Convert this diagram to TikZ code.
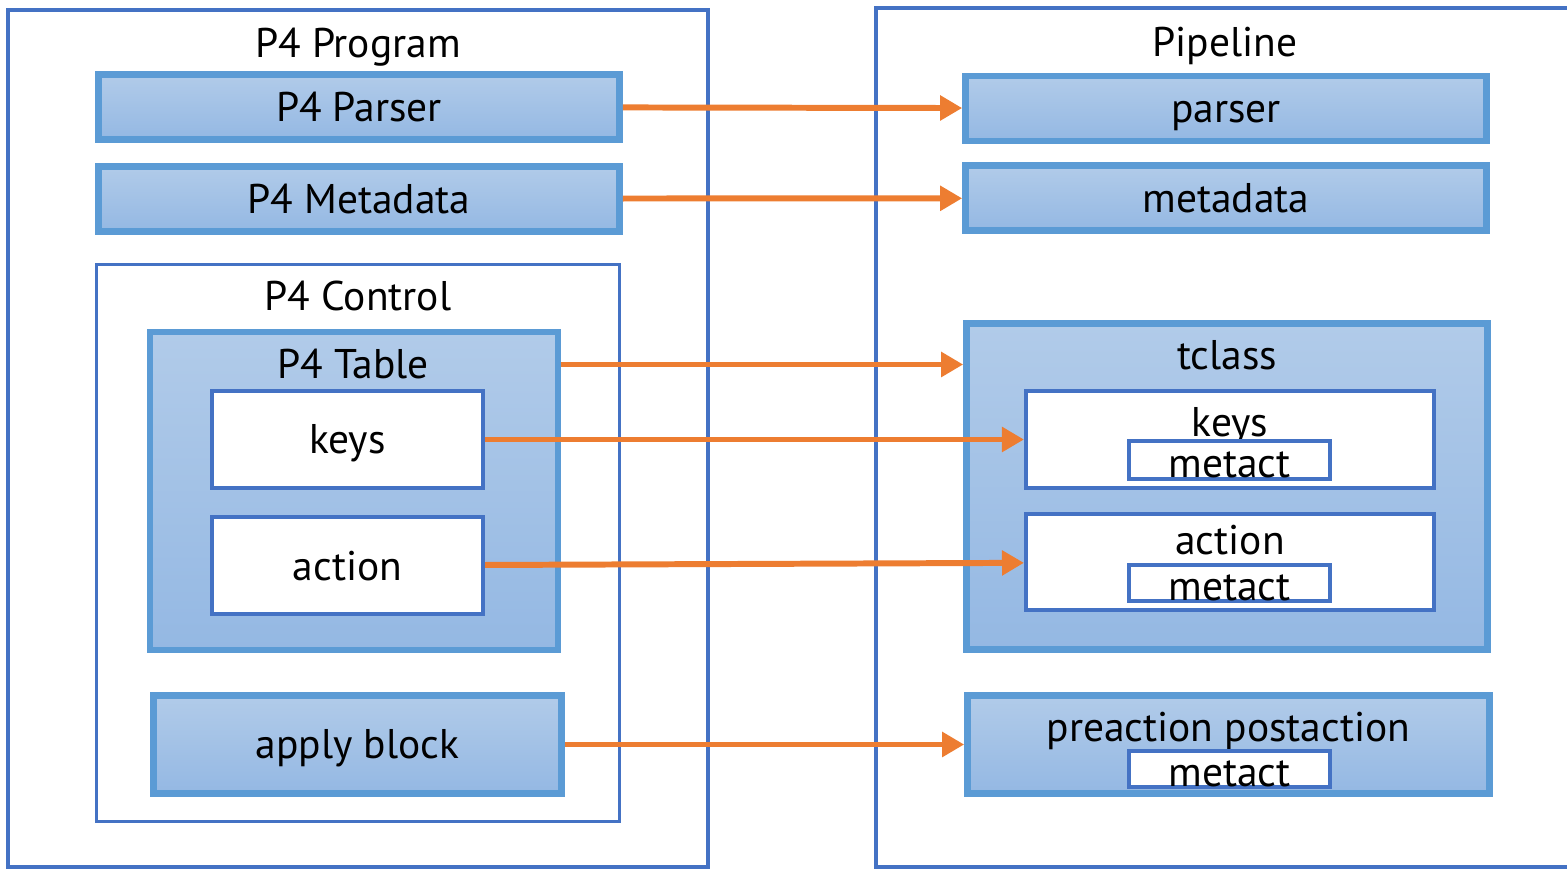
\documentclass[tikz,border=0pt]{standalone}
\usepackage{fontspec}
\setmainfont{PT Sans}
\usepackage{xcolor}
\usetikzlibrary{arrows.meta, positioning}
\definecolor{frameblue}{HTML}{4472C4}
\definecolor{boxblue}{HTML}{5B9BD5}
\definecolor{gradtop}{HTML}{B1CBE9}
\definecolor{gradbot}{HTML}{94B8E3}
\definecolor{arrorange}{HTML}{ED7D31}

\begin{document}
\begin{tikzpicture}[
    every node/.style={font=\fontsize{11.8}{14}\selectfont},
    frame/.style={
      rectangle, draw=frameblue, line width=0.9pt, fill=white,
      inner sep=0pt
    },
    gradbox/.style={
      rectangle, draw=boxblue, line width=1.9pt,
      top color=gradtop, bottom color=gradbot,
      minimum width=5.21cm, minimum height=0.65cm, align=center,
      text height=0.29cm, text depth=0pt
    },
    whitebox/.style={
      rectangle, draw=frameblue, line width=1.15pt, fill=white,
      minimum width=2.71cm, minimum height=0.97cm, align=center,
      text height=0.29cm, text depth=0pt
    },
    tagbox/.style={
      rectangle, draw=frameblue, line width=1.1pt, fill=white,
      minimum width=2.01cm, minimum height=0.38cm, inner sep=0pt,
      text height=0.36cm, text depth=0pt
    },
    title/.style={anchor=base, inner sep=0pt},
    arr/.style={-{Triangle[length=0.22cm, width=0.24cm]}, arrorange, line width=1.7pt},
  ]

  \useasboundingbox (0,0) rectangle (15.67,8.69);
  \clip (0,0) rectangle (15.67,8.69);

  % Left side: program
  \node[frame, minimum width=7.00cm, minimum height=8.57cm] (program) at (3.58,4.305) {};
  \node[title] (tprogram) at (3.58,8.11) {P4 Program};
  \node[gradbox] (p4parser) at (3.59,7.62) {P4 Parser};
  \node[gradbox, below=0.2cm of p4parser] (p4meta) {P4 Metadata};

  \node[frame, minimum width=5.23cm, minimum height=5.57cm] (p4control) at (3.58,3.26) {};
  \node[title] (tcontrol) at (3.58,5.58) {P4 Control};
  \node[gradbox, minimum width=4.08cm, minimum height=3.18cm] (p4table) at (3.54,3.78) {};
  \node[title] (ttable) at (3.53,4.90) {P4 Table};
  \node[whitebox] (lkeys) at (3.475,4.295) {keys};
  \node[whitebox, below=0.25cm of lkeys] (laction) {action};
  \node[gradbox, minimum width=4.08cm, minimum height=0.98cm] (apply) at (3.575,1.245) {apply block};

  % Right side: pipeline
  \node[frame, minimum width=7.04cm, minimum height=8.59cm] (pipeline) at (12.28,4.315) {};
  \node[title] (tpipeline) at (12.25,8.12) {Pipeline};
  \node[gradbox] (parser) at (12.26,7.605) {parser};
  \node[gradbox, below=0.18cm of parser] (metadata) {metadata};

  \node[gradbox, minimum height=3.26cm] (tclass) at (12.27,3.825) {};
  \node[title] (ttclass) at (12.27,4.99) {tclass};
  \node[whitebox, minimum width=4.08cm] (rkeys) at (12.30,4.295) {};
  \node[title] (trkeys) at (12.30,4.32) {keys};
  \node[tagbox] (keysmeta) at (12.295,4.09) {metact};
  \node[whitebox, minimum width=4.08cm, minimum height=0.96cm, below=0.22cm of rkeys] (raction) {};
  \node[title] (traction) at (12.30,3.14) {action};
  \node[tagbox, minimum height=0.36cm] (actionmeta) at (12.295,2.86) {metact};

  \node[gradbox, minimum width=5.22cm, minimum height=0.98cm] (prepost) at (12.285,1.245) {};
  \node[title] (tprepost) at (12.285,1.27) {preaction postaction};
  \node[tagbox, minimum height=0.36cm] (prepostmeta) at (12.295,1.00) {metact};

  % Arrows
  \draw[arr] (p4parser) -- (parser);
  \draw[arr] (p4meta) -- (metadata);
  \draw[arr] (p4table.east |- ttable) -- (tclass.west |- ttable);
  \draw[arr] (lkeys) -- (rkeys);
  \draw[arr] (laction) -- (raction);
  \draw[arr] (apply) -- (prepost);

\end{tikzpicture}
\end{document}
